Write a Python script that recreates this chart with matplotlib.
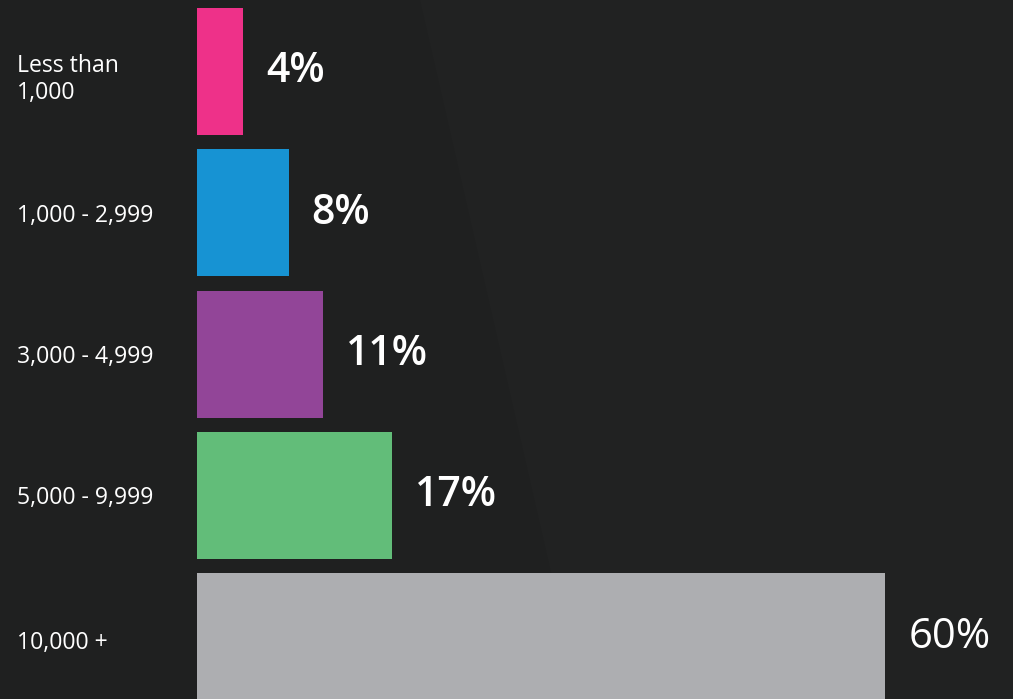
import matplotlib
matplotlib.use("Agg")
import matplotlib.pyplot as plt
from matplotlib.patches import Polygon

categories = ["Less than\n1,000", "1,000 - 2,999", "3,000 - 4,999", "5,000 - 9,999", "10,000 +"]
values = [4, 8, 11, 17, 60]
labels = ["4%", "8%", "11%", "17%", "60%"]
colors = ["#ee3189", "#1793d3", "#924598", "#62bd79", "#adaeb1"]

plt.rcParams['font.family'] = ['Open Sans', 'DejaVu Sans']

W, H = 1013, 699
fig = plt.figure(figsize=(W / 100, H / 100), dpi=100)
bg = "#1f2020"
fig.patch.set_facecolor(bg)

# subtle lighter region in background
bgax = fig.add_axes([0, 0, 1, 1], zorder=0)
bgax.set_xlim(0, W); bgax.set_ylim(H, 0); bgax.axis("off")
bgax.add_patch(Polygon([[420, 0], [W, 0], [W, H], [580, H]], closed=True,
                       facecolor="#212222", edgecolor="none"))

x0 = 197
scale = 11.46
pitch = 141.3
c0 = 71.5
ax = fig.add_axes([x0 / W, 0, 1 - x0 / W, 1], zorder=1)
ax.patch.set_alpha(0)
ax.set_xlim(0, (W - x0) / scale)
ax.set_ylim((H - c0) / pitch, -c0 / pitch)
ax.axis("off")

ypos = list(range(len(values)))
ax.barh(ypos, values, height=127 / pitch, color=colors, left=0)

for i, (v, lab) in enumerate(zip(values, labels)):
    big = v == max(values)
    weight = "normal" if big else "semibold"
    off = 24 if big else 23
    ax.text(v + off / scale, i, lab, ha="left", va="center", color="white",
            fontsize=30 if big else 29.5, fontweight=weight)
    dy = 8 if i == 0 else (6 if i == 4 else 3)
    fig.text(17 / W, 1 - (c0 + i * pitch + dy) / H, categories[i],
             ha="left", va="center", color="white", fontsize=16.6, linespacing=1.22)

fig.savefig("out.png", dpi=100, facecolor=bg)
